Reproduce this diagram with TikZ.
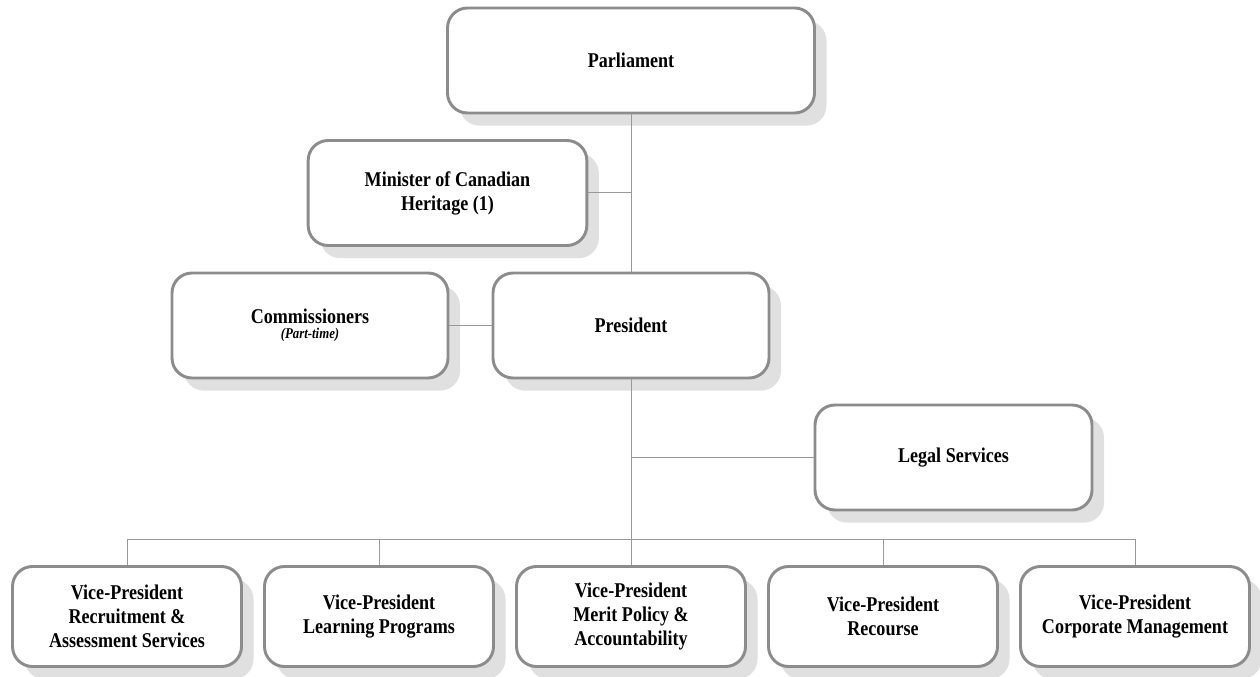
\documentclass[tikz,border=0pt]{standalone}
\usepackage{fontspec}
\setmainfont{Liberation Serif}[FakeStretch=0.86]
\usetikzlibrary{shadows}
\begin{document}
\begin{tikzpicture}[x=0.75pt,y=-0.75pt,
  box/.style={draw=black!45, line width=2.2pt, rounded corners=15pt, fill=white,
    align=center, inner sep=0pt, font=\bfseries\fontsize{15.75}{18}\selectfont,
    drop shadow={shadow xshift=9pt, shadow yshift=-9.5pt, fill=black!12, opacity=1}},
  big/.style={box, minimum width=207pt, minimum height=78.75pt},
  vp/.style={box, minimum width=171.75pt, minimum height=75pt},
  conn/.style={draw=black!40, line width=0.75pt}]
\useasboundingbox (0,0) rectangle (1260,677);

\node[box, minimum width=275.25pt, minimum height=78.75pt] (parl) at (631,60.5) {Parliament};
\node[big, minimum width=209pt] (min) at (447.5,193) {Minister of Canadian\\Heritage (1)};
\node[big] (com) at (310,325.5) {Commissioners\\[-7pt]{\fontsize{11.2}{12}\selectfont\itshape (Part-time)}};
\node[big] (pres) at (631,325.5) {President};
\node[big, minimum width=207.75pt] (legal) at (953.5,457.5) {Legal Services};

\node[vp] (v1) at (127,616.5) {Vice-President\\Recruitment \&\\Assessment Services};
\node[vp] (v2) at (379,616.5) {Vice-President\\Learning Programs};
\node[vp] (v3) at (631,616.5) {Vice-President\\Merit Policy \&\\Accountability};
\node[vp] (v4) at (883,616.5) {Vice-President\\Recourse};
\node[vp] (v5) at (1135,616.5) {Vice-President\\Corporate Management};

\coordinate (bus) at (631,539);

\draw[conn] (parl.south) -- (pres.north);
\draw[conn] (min.east) -- (min.east -| parl.south);
\draw[conn] (com.east) -- (pres.west);
\draw[conn] (pres.south) -- (bus);
\draw[conn] (legal.west) -- (legal.west -| pres.south);
\draw[conn] (v1.north |- bus) -- (v5.north |- bus);
\foreach \n in {v1,v2,v3,v4,v5} {
  \draw[conn] (\n.north) -- (\n.north |- bus);
}
\end{tikzpicture}
\end{document}
